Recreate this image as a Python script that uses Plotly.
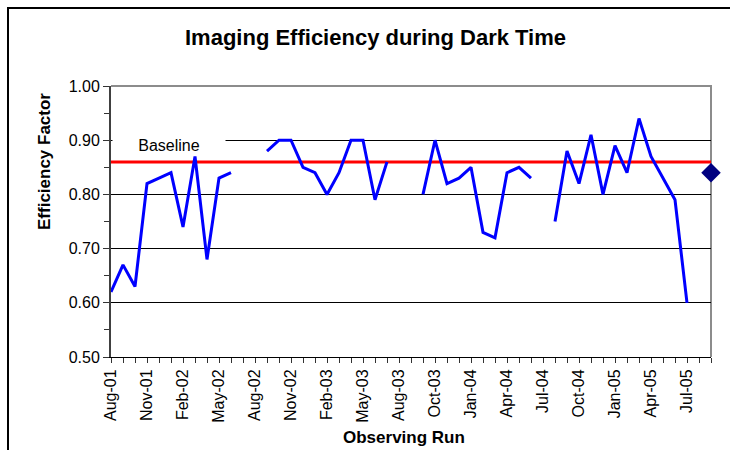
import plotly.graph_objects as go

# ---- data ----
categories = [
    "Aug-01", "Sep-01", "Oct-01", "Nov-01", "Dec-01", "Jan-02", "Feb-02", "Mar-02",
    "Apr-02", "May-02", "Jun-02", "Jul-02", "Aug-02", "Sep-02", "Oct-02", "Nov-02",
    "Dec-02", "Jan-03", "Feb-03", "Mar-03", "Apr-03", "May-03", "Jun-03", "Jul-03",
    "Aug-03", "Sep-03", "Sep-03 (2)", "Oct-03", "Nov-03", "Dec-03", "Jan-04", "Feb-04",
    "Mar-04", "Apr-04", "May-04", "Jun-04", "Jul-04", "Aug-04", "Sep-04", "Oct-04",
    "Nov-04", "Dec-04", "Jan-05", "Feb-05", "Mar-05", "Apr-05", "May-05", "Jun-05",
    "Jul-05", "Aug-05", "Sep-05",
]
efficiency = [
    0.62, 0.67, 0.63, 0.82, 0.83, 0.84, 0.74, 0.87, 0.68, 0.83, 0.84, None, None,
    0.88, 0.90, 0.90, 0.85, 0.84, 0.80, 0.84, 0.90, 0.90, 0.79, 0.86, None, None,
    0.80, 0.90, 0.82, 0.83, 0.85, 0.73, 0.72, 0.84, 0.85, 0.83, None,
    0.75, 0.88, 0.82, 0.91, 0.80, 0.89, 0.84, 0.94, 0.87, 0.83, 0.79, 0.60, None, None,
]
labelled_categories = [
    "Aug-01", "Nov-01", "Feb-02", "May-02", "Aug-02", "Nov-02", "Feb-03", "May-03",
    "Aug-03", "Oct-03", "Jan-04", "Apr-04", "Jul-04", "Oct-04", "Jan-05", "Apr-05", "Jul-05",
]
baseline = 0.86
average_category = "Sep-05"
average_value = 0.84

x_idx = list(range(len(categories)))
tick_idx = [categories.index(c) for c in labelled_categories]

FONT = "Liberation Sans, Arial, sans-serif"

# plot area in pixels: x 111..711, y 86..357
L, R, T, B = 111, 711, 86, 357
W, H = 730, 450

def px(xp):
    return (xp - L) / (R - L)

def py(yp):
    return (B - yp) / (B - T)

fig = go.Figure()

fig.add_trace(go.Scatter(
    x=[x_idx[0], x_idx[-1]], y=[baseline, baseline], mode="lines",
    line=dict(color="#FF0000", width=3), hoverinfo="skip",
))
fig.add_trace(go.Scatter(
    x=x_idx, y=efficiency, mode="lines", connectgaps=False,
    line=dict(color="#0000FF", width=3),
))
fig.add_trace(go.Scatter(
    x=[categories.index(average_category)], y=[average_value], mode="markers",
    marker=dict(symbol="diamond", color="#000080", size=15), cliponaxis=False,
))

fig.update_layout(
    width=W, height=H,
    margin=dict(l=L, r=W - R, t=T, b=H - B, pad=0),
    paper_bgcolor="white", plot_bgcolor="white",
    showlegend=False,
    font=dict(family=FONT, color="black"),
    xaxis=dict(
        range=[0, len(categories) - 1],
        tickmode="array", tickvals=tick_idx, ticktext=labelled_categories,
        tickangle=-90, tickfont=dict(size=16, family=FONT),
        ticks="outside", ticklen=5, tickcolor="#333", tickwidth=1,
        minor=dict(dtick=1, tick0=0, ticks="outside", ticklen=5, tickcolor="#333", showgrid=False),
        showgrid=False, zeroline=False,
        showline=True, linecolor="#000", linewidth=1,
    ),
    yaxis=dict(
        range=[0.5, 1.0], dtick=0.1, tick0=0.5, tickformat=".2f",
        tickfont=dict(size=16, family=FONT),
        ticks="outside", ticklen=6, tickcolor="#333", tickwidth=1,
        minor=dict(dtick=0.05, ticks="outside", ticklen=5, tickcolor="#333", showgrid=False),
        showgrid=True, gridcolor="#000", gridwidth=1, zeroline=False,
        showline=True, linecolor="#404040", linewidth=2,
    ),
    shapes=[
        dict(type="path", xref="paper", yref="paper", path="M 0,1 L 1,1 L 1,0",
             line=dict(color="#8c8c8c", width=2), layer="between"),
        dict(type="rect", xref="paper", yref="paper",
             x0=px(8), x1=px(745), y0=py(470), y1=py(8),
             line=dict(color="#000", width=2), fillcolor="rgba(0,0,0,0)", layer="above"),
    ],
    annotations=[
        dict(text="<b>Imaging Efficiency during Dark Time</b>", xref="paper", yref="paper",
             x=px(375), y=py(38), xanchor="center", yanchor="middle", showarrow=False,
             font=dict(size=22, family=FONT, color="black")),
        dict(text="<b>Efficiency Factor</b>", xref="paper", yref="paper",
             x=px(44), y=py(162), xanchor="center", yanchor="middle", textangle=-90,
             showarrow=False, font=dict(size=17, family=FONT, color="black")),
        dict(text="<b>Observing Run</b>", xref="paper", yref="paper",
             x=px(404), y=py(437), xanchor="center", yanchor="middle",
             showarrow=False, font=dict(size=17, family=FONT, color="black")),
        dict(text="Baseline", xref="paper", yref="paper",
             x=px(112), y=py(145), xanchor="left", yanchor="middle", width=112, height=18,
             align="center", bgcolor="white", borderpad=0, showarrow=False,
             font=dict(size=16, family=FONT, color="black")),
    ],
)

fig.write_html(
    "out.html",
    config={"displayModeBar": False},
    post_script="document.body.style.margin='0';document.body.style.overflow='hidden';",
)
